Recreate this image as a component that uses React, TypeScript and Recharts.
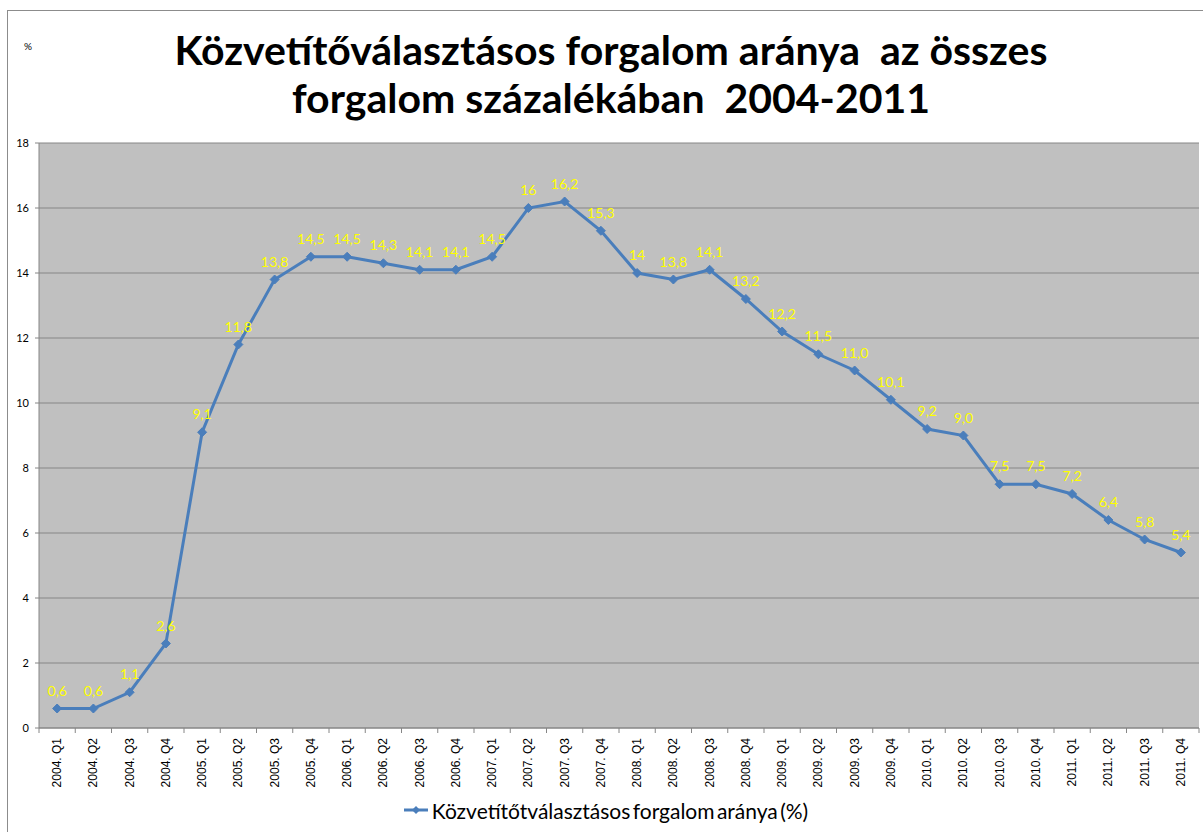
import { LineChart, Line, XAxis, YAxis, CartesianGrid, Legend, LabelList } from "recharts";

const quarters = [
  "2004. Q1", "2004. Q2", "2004. Q3", "2004. Q4",
  "2005. Q1", "2005. Q2", "2005. Q3", "2005. Q4",
  "2006. Q1", "2006. Q2", "2006. Q3", "2006. Q4",
  "2007. Q1", "2007. Q2", "2007. Q3", "2007. Q4",
  "2008. Q1", "2008. Q2", "2008. Q3", "2008. Q4",
  "2009. Q1", "2009. Q2", "2009. Q3", "2009. Q4",
  "2010. Q1", "2010. Q2", "2010. Q3", "2010. Q4",
  "2011. Q1", "2011. Q2", "2011. Q3", "2011. Q4",
];

const shares = [
  0.6, 0.6, 1.1, 2.6, 9.1, 11.8, 13.8, 14.5,
  14.5, 14.3, 14.1, 14.1, 14.5, 16, 16.2, 15.3,
  14, 13.8, 14.1, 13.2, 12.2, 11.5, 11.0, 10.1,
  9.2, 9.0, 7.5, 7.5, 7.2, 6.4, 5.8, 5.4,
];

// label text as printed on the chart (mixed decimals)
const shareLabels = [
  "0,6", "0,6", "1,1", "2,6", "9,1", "11,8", "13,8", "14,5",
  "14,5", "14,3", "14,1", "14,1", "14,5", "16", "16,2", "15,3",
  "14", "13,8", "14,1", "13,2", "12,2", "11,5", "11,0", "10,1",
  "9,2", "9,0", "7,5", "7,5", "7,2", "6,4", "5,8", "5,4",
];

const yTicks = [0, 2, 4, 6, 8, 10, 12, 14, 16, 18];

const SERIES_NAME = "Közvetítőtválasztásos forgalom aránya (%)";
const LINE_COLOR = "#4A7EBB";
const AXIS_COLOR = "#868686";
const HALF_BAND = 1160 / quarters.length / 2;

const data = quarters.map((q, i) => ({ q, value: shares[i], label: shareLabels[i] }));

const Diamond = (props: any) => {
  const { cx, cy, index } = props;
  const r = 4.5;
  return (
    <path
      key={`d-${index}`}
      d={`M${cx},${cy - r} L${cx + r},${cy} L${cx},${cy + r} L${cx - r},${cy} Z`}
      fill={LINE_COLOR}
      stroke={LINE_COLOR}
    />
  );
};

const QuarterTick = (props: any) => {
  const { x, y, payload, index } = props;
  const last = index === quarters.length - 1;
  return (
    <g>
      <line x1={x - HALF_BAND} y1={y} x2={x - HALF_BAND} y2={y + 5} stroke={AXIS_COLOR} />
      {last && <line x1={x + HALF_BAND} y1={y} x2={x + HALF_BAND} y2={y + 5} stroke={AXIS_COLOR} />}
      <text
        x={x + 4}
        y={y + 10}
        transform={`rotate(-90, ${x + 4}, ${y + 10})`}
        textAnchor="end"
        fontSize={12}
        fontFamily="Liberation Sans, Arial, sans-serif"
        fill="#000"
      >
        {payload.value}
      </text>
    </g>
  );
};

const LegendContent = () => (
  <div style={{ display: "flex", justifyContent: "center", alignItems: "center", height: 44, paddingLeft: 12 }}>
    <svg width={26} height={12} style={{ marginRight: 3 }}>
      <line x1={1} y1={6} x2={25} y2={6} stroke={LINE_COLOR} strokeWidth={3} />
      <path d="M13,2 L17,6 L13,10 L9,6 Z" fill={LINE_COLOR} />
    </svg>
    <span style={{ fontFamily: "Lato, sans-serif", fontSize: 21, wordSpacing: -3, color: "#000" }}>{SERIES_NAME}</span>
  </div>
);

export default function App() {
  return (
    <div style={{ position: "absolute", left: 0, top: 0, width: 1203, height: 832, background: "#fff", overflow: "hidden" }}>
      <div style={{ position: "absolute", left: 7, top: 10, width: 1220, height: 840, border: "1px solid #8C8C8C" }} />
      <div
        style={{
          position: "absolute",
          left: 0,
          top: 26,
          width: 1222,
          textAlign: "center",
          fontFamily: "Lato, sans-serif",
          fontWeight: 700,
          fontSize: 41,
          lineHeight: "48px",
          color: "#000",
        }}
      >
        Közvetítőválasztásos forgalom aránya&nbsp; az összes
        <br />
        forgalom százalékában&nbsp; 2004-2011
      </div>
      <div style={{ position: "absolute", left: 24, top: 40, fontFamily: "Lato, sans-serif", fontSize: 10 }}>%</div>
      <div style={{ position: "absolute", left: 0, top: 0 }}>
        <LineChart width={1203} height={832} data={data} margin={{ top: 143, right: 4, left: 0, bottom: 0 }}>
          <CartesianGrid vertical={false} stroke={AXIS_COLOR} fill="#C0C0C0" strokeWidth={1} />
          <XAxis
            dataKey="q"
            interval={0}
            height={60}
            padding={{ left: HALF_BAND, right: HALF_BAND }}
            tickLine={false}
            tickSize={0}
            tickMargin={0}
            axisLine={{ stroke: AXIS_COLOR }}
            tick={<QuarterTick />}
          />
          <YAxis
            width={39}
            domain={[0, 18]}
            ticks={yTicks}
            tickSize={4}
            tickMargin={6}
            axisLine={{ stroke: AXIS_COLOR }}
            tickLine={{ stroke: AXIS_COLOR }}
            tick={{ fontSize: 11, fill: "#000", fontFamily: "Lato, sans-serif" }}
          />
          <Legend verticalAlign="bottom" height={44} content={<LegendContent />} />
          <Line
            type="linear"
            dataKey="value"
            name={SERIES_NAME}
            stroke={LINE_COLOR}
            strokeWidth={3}
            dot={Diamond}
            activeDot={false}
            isAnimationActive={false}
          >
            <LabelList
              dataKey="label"
              position="top"
              offset={13}
              fill="#FFFF00"
              fontSize={14}
              fontFamily="Lato, sans-serif"
            />
          </Line>
        </LineChart>
      </div>
    </div>
  );
}
